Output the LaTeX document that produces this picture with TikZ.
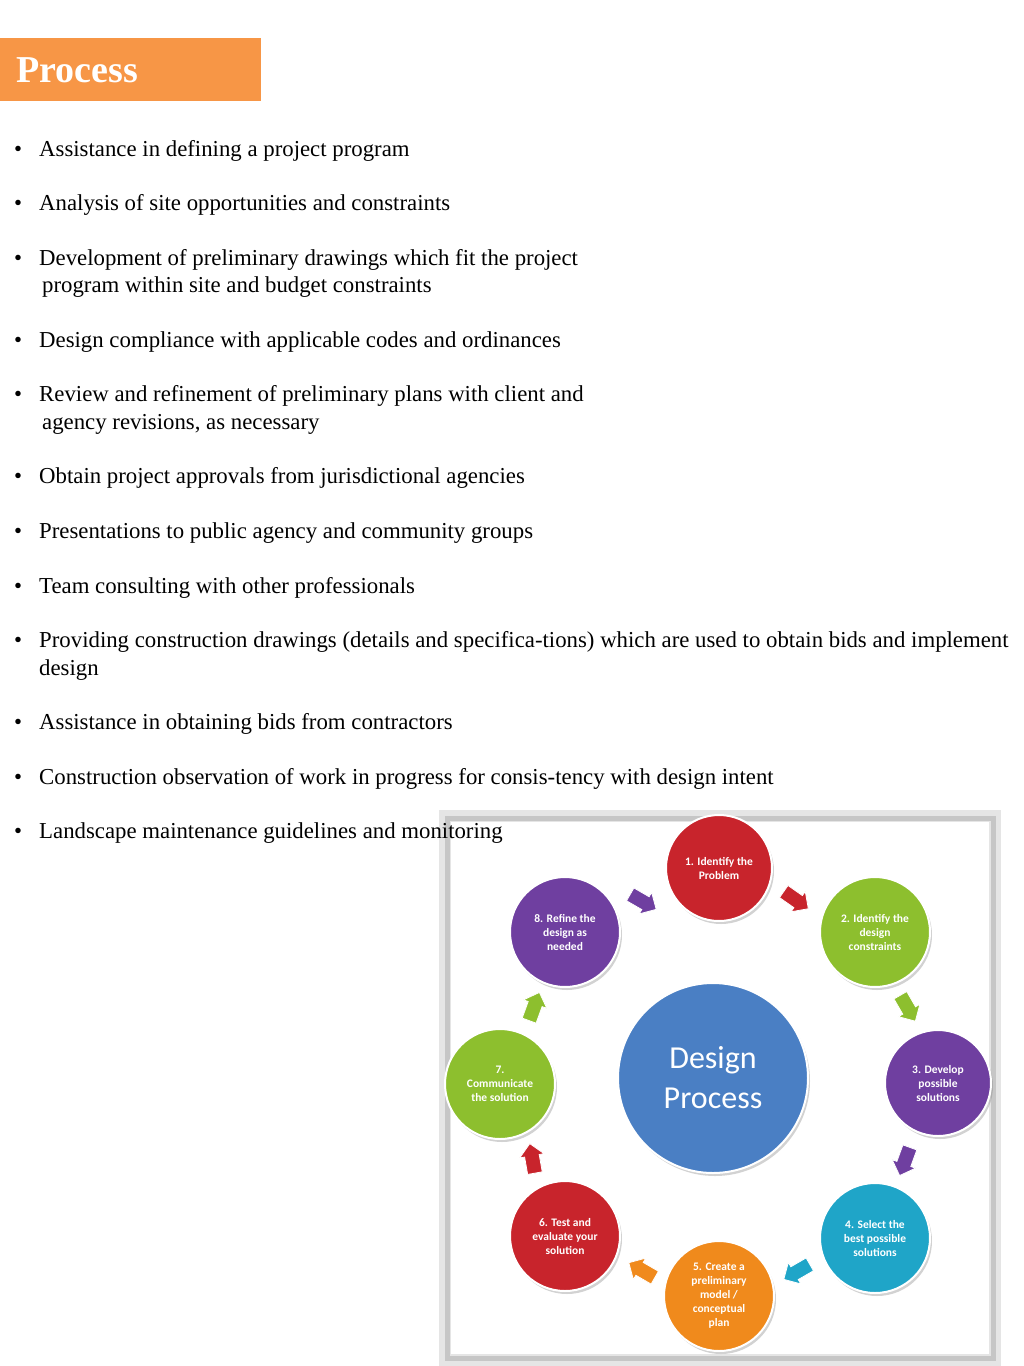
\documentclass[tikz,border=0pt]{standalone}
\usepackage{fontspec}
\setmainfont{Liberation Serif}
\newfontfamily\cfont{Carlito}
\usetikzlibrary{shapes.arrows,shadows}
\definecolor{orng}{HTML}{F79646}
\definecolor{cred}{HTML}{C8242C}
\definecolor{cgreen}{HTML}{8DBF2E}
\definecolor{cpurple}{HTML}{6F3FA0}
\definecolor{ccyan}{HTML}{1FA5C8}
\definecolor{corange}{HTML}{F08A1C}
\definecolor{cblue}{HTML}{4A7FC4}
\tikzset{
 bl/.style={anchor=west,inner sep=0pt,font=\fontsize{22.8}{26}\selectfont},
 ball/.style={circle,minimum size=#1,inner sep=0pt,draw=white,line width=2pt,
   text=white,align=center,font=\cfont\bfseries\fontsize{11.5}{14}\selectfont,
   drop shadow={opacity=0.35,shadow xshift=2pt,shadow yshift=-3pt}},
 arr/.style={single arrow,minimum height=30pt,inner sep=7pt,single arrow head extend=5pt,
   draw=white,line width=0.8pt}
}
\begin{document}
\begin{tikzpicture}[x=1pt,y=-1pt]
\useasboundingbox (0,0) rectangle (1024,1366);
\fill[orng] (0,38) rectangle (261,101);
\node[anchor=west,text=white,font=\bfseries\fontsize{38}{42}\selectfont] (title) at (13,70) {Process};
\foreach \y in {151,205,260,342,396,478,533,588,642,724,779,833}
  \node[bl] (b\y) at (14,\y) {\textbullet};
\node[bl] (t1) at (39,151) {Assistance in defining a project program};
\node[bl] (t2) at (39,205) {Analysis of site opportunities and constraints};
\node[bl] (t3) at (39,260) {Development of preliminary drawings which fit the project};
\node[bl] (t3b) at (42,287) {program within site and budget constraints};
\node[bl] (t4) at (39,342) {Design compliance with applicable codes and ordinances};
\node[bl] (t5) at (39,396) {Review and refinement of preliminary plans with client and};
\node[bl] (t5b) at (42,424) {agency revisions, as necessary};
\node[bl] (t6) at (39,478) {Obtain project approvals from jurisdictional agencies};
\node[bl] (t7) at (39,533) {Presentations to public agency and community groups};
\node[bl] (t8) at (39,588) {Team consulting with other professionals};
\node[bl] (t9) at (39,642) {Providing construction drawings (details and specifica-tions) which are used to obtain bids and implement};
\node[bl] (t9b) at (39,670) {design};
\node[bl] (t10) at (39,724) {Assistance in obtaining bids from contractors};
\node[bl] (t11) at (39,779) {Construction observation of work in progress for consis-tency with design intent};
% frame
\draw[gray!20,line width=12pt] (445,816) rectangle (995,1360);
\draw[gray!45,line width=5pt] (447,818) rectangle (993,1358);
\fill[white] (451,822) rectangle (989,1354);
\node[bl] (t12) at (39,833) {Landscape maintenance guidelines and monitoring};
% circles
\node[ball=104pt,fill=cblue,font=\cfont\fontsize{32}{40}\selectfont,minimum size=190pt] (c0) at (713,1078) {Design\\Process};
\node[ball=106pt,fill=cred] (c1) at (719,868) {1. Identify the\\Problem};
\node[ball=110pt,fill=cgreen] (c2) at (875,932) {2. Identify the\\design\\constraints};
\node[ball=106pt,fill=cpurple] (c3) at (938,1083) {3. Develop\\possible\\solutions};
\node[ball=110pt,fill=ccyan] (c4) at (875,1238) {4. Select the\\best possible\\solutions};
\node[ball=110pt,fill=corange] (c5) at (719,1296) {5. Create a\\preliminary\\model /\\conceptual\\plan};
\node[ball=110pt,fill=cred] (c6) at (565,1236) {6. Test and\\evaluate your\\solution};
\node[ball=110pt,fill=cgreen] (c7) at (500,1084) {7.\\Communicate\\the solution};
\node[ball=110pt,fill=cpurple] (c8) at (565,932) {8. Refine the\\design as\\needed};
% arrows
\node[arr,fill=cpurple,rotate=-30] (a81) at (640,900) {};
\node[arr,fill=cred,rotate=-35] (a12) at (793,898) {};
\node[arr,fill=cgreen,rotate=-60] (a23) at (906,1005) {};
\node[arr,fill=cpurple,rotate=-110] (a34) at (906,1158) {};
\node[arr,fill=ccyan,rotate=-150] (a45) at (800,1270) {};
\node[arr,fill=corange,rotate=-210] (a56) at (645,1272) {};
\node[arr,fill=cred,rotate=-260] (a67) at (533,1162) {};
\node[arr,fill=cgreen,rotate=-290] (a78) at (533,1010) {};
\end{tikzpicture}
\end{document}
